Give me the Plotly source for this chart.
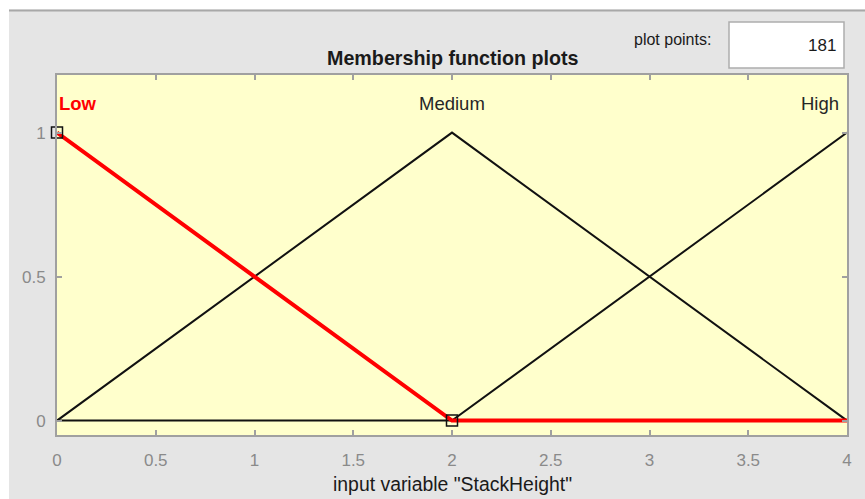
import plotly.graph_objects as go

# Membership functions of the input variable "StackHeight"
x_points = [0, 2, 4]
low_values = [1, 0, 0]
medium_values = [0, 1, 0]
high_values = [0, 0, 1]

mf_names = ["Low", "Medium", "High"]
mf_label_x = [0, 2, 4]

# vertices of the selected function (Low) that fall inside the range
param_x = [0, 2]
param_y = [1, 0]

x_ticks = [0, 0.5, 1, 1.5, 2, 2.5, 3, 3.5, 4]
y_ticks = [0, 0.5, 1]
plot_points = 181

W, H = 865, 499
L, R, T, B = 57, 18, 75, 64
pw, ph = W - L - R, H - T - B


def px(x):
    return (x - L) / pw


def py(y):
    return (H - B - y) / ph


fig = go.Figure()

fig.add_trace(go.Scatter(x=x_points, y=medium_values, mode="lines",
                         line=dict(color="#111111", width=2), hoverinfo="skip"))
fig.add_trace(go.Scatter(x=x_points, y=high_values, mode="lines",
                         line=dict(color="#111111", width=2), hoverinfo="skip"))
fig.add_trace(go.Scatter(x=x_points, y=low_values, mode="lines",
                         line=dict(color="#ff0000", width=4), hoverinfo="skip"))
fig.add_trace(go.Scatter(x=param_x, y=param_y, mode="markers",
                         marker=dict(symbol="square-open", size=11, color="#111111",
                                     line=dict(width=1.5)),
                         cliponaxis=False, hoverinfo="skip"))

font = "Liberation Sans, Arial, sans-serif"

# function names above the curves
anchors = ["left", "center", "right"]
shifts = [0, 0, -6]
for name, xv, anc, sh in zip(mf_names, mf_label_x, anchors, shifts):
    sel = name == "Low"
    fig.add_annotation(x=xv, y=1.1, xref="x", yref="y", text=f"<b>{name}</b>" if sel else name,
                       showarrow=False, xanchor=anc, yanchor="middle", xshift=sh,
                       font=dict(family=font, size=18.5, color="#ff0000" if sel else "#262626"))

# window background strips and the top separator line
shapes = [
    dict(type="rect", xref="paper", yref="paper", x0=px(0), x1=px(W), y0=py(0), y1=py(9.5),
         fillcolor="#ffffff", line=dict(width=0), layer="below"),
    dict(type="rect", xref="paper", yref="paper", x0=px(0), x1=px(9), y0=py(0), y1=py(H),
         fillcolor="#ffffff", line=dict(width=0), layer="below"),
    dict(type="line", xref="paper", yref="paper", x0=px(9), x1=px(W), y0=py(10.5), y1=py(10.5),
         line=dict(color="#a8a8a8", width=2), layer="below"),
    # plot points input box
    dict(type="rect", xref="paper", yref="paper", x0=px(729), x1=px(844), y0=py(68), y1=py(22),
         fillcolor="#ffffff", line=dict(color="#adadad", width=1.5)),
]

fig.add_annotation(x=px(453), y=py(58), xref="paper", yref="paper",
                   text="<b>Membership function plots</b>", showarrow=False,
                   xanchor="center", yanchor="middle",
                   font=dict(family=font, size=19.7, color="#1a1a1a"))
fig.add_annotation(x=px(713), y=py(40), xref="paper", yref="paper", text="plot points:",
                   showarrow=False, xanchor="right", yanchor="middle",
                   font=dict(family=font, size=16, color="#1a1a1a"))
fig.add_annotation(x=px(838), y=py(45), xref="paper", yref="paper", text=str(plot_points),
                   showarrow=False, xanchor="right", yanchor="middle",
                   font=dict(family=font, size=17, color="#1a1a1a"))
fig.add_annotation(x=px(452), y=py(484), xref="paper", yref="paper",
                   text='input variable "StackHeight"', showarrow=False,
                   xanchor="center", yanchor="middle",
                   font=dict(family=font, size=19.4, color="#1a1a1a"))

axis_common = dict(showgrid=False, zeroline=False, showline=True, linecolor="#a0a0a0",
                   linewidth=2, mirror="ticks", ticks="inside", ticklen=5,
                   tickcolor="#a0a0a0", tickwidth=1.5,
                   tickfont=dict(family=font, size=17, color="#8a8a8a"))

fig.update_layout(
    width=W, height=H,
    margin=dict(l=L, r=R, t=T, b=B),
    paper_bgcolor="#e5e5e5",
    plot_bgcolor="#ffffcc",
    showlegend=False,
    shapes=shapes,
    xaxis=dict(range=[0, 4], tickvals=x_ticks, ticktext=[f"{v:g}" for v in x_ticks],
               ticklabelstandoff=9, **axis_common),
    yaxis=dict(range=[-0.05, 1.2], tickvals=y_ticks, ticktext=[f"{v:g}" for v in y_ticks],
               ticklabelstandoff=6, **axis_common),
)

fig.write_html("out.html")
